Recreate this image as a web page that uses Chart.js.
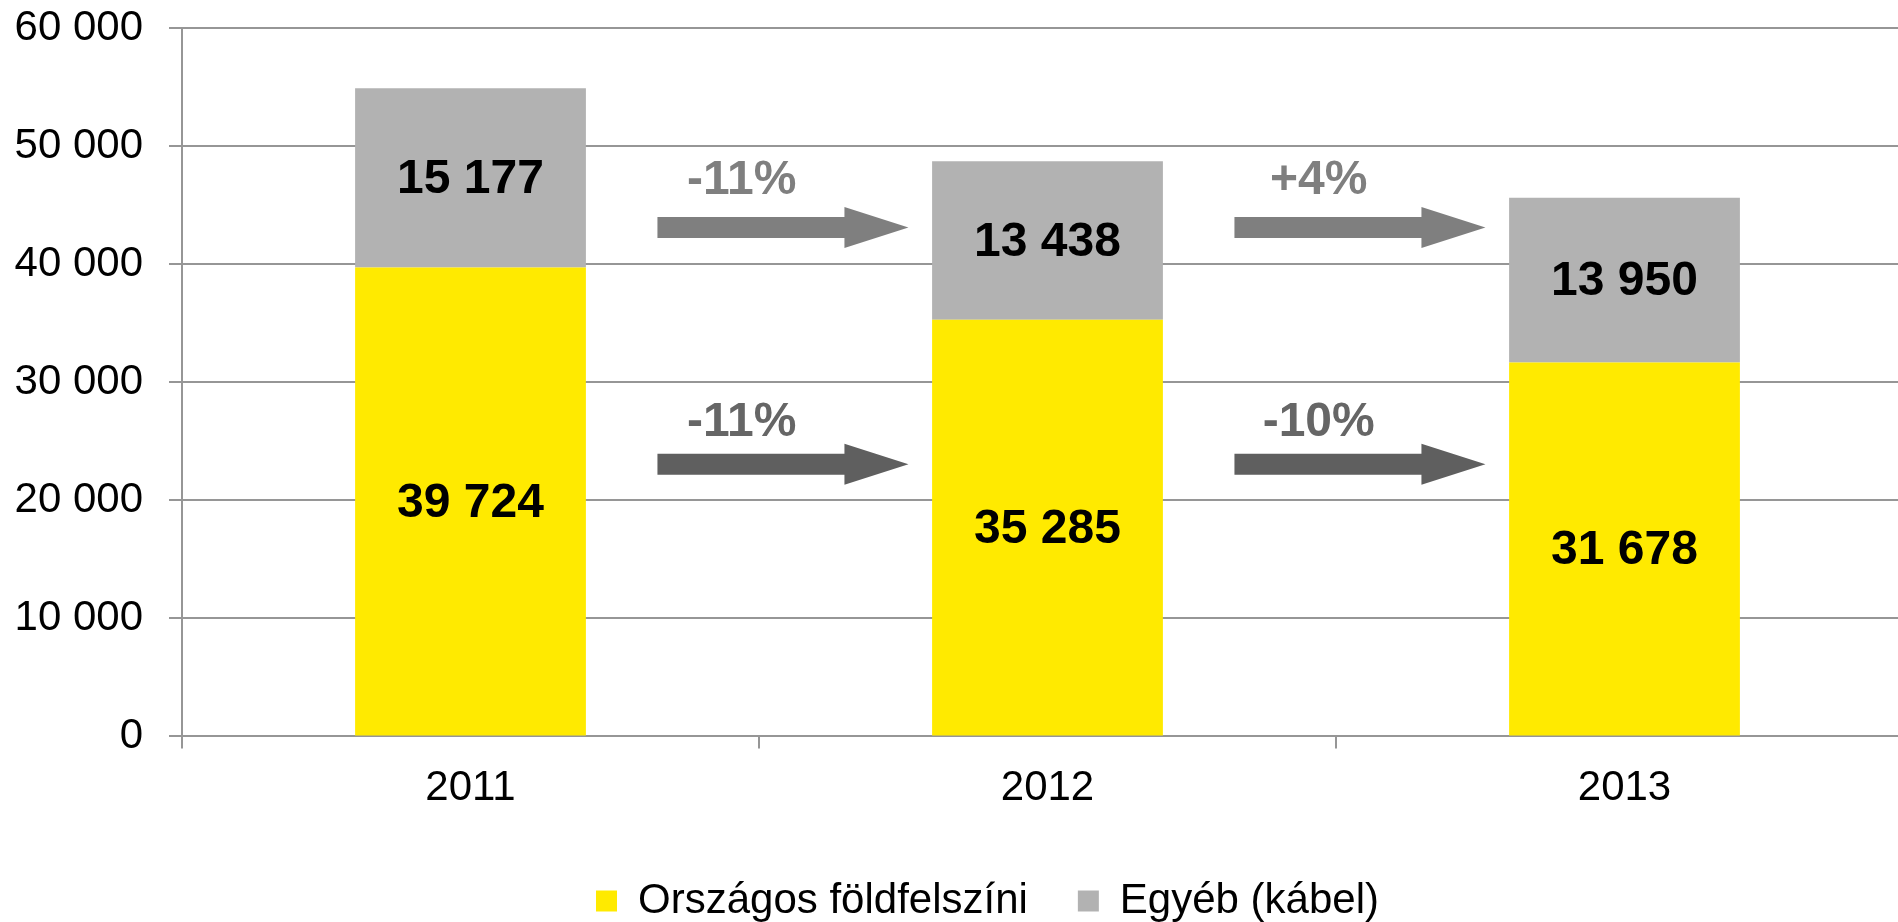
<!DOCTYPE html>
<html><head><meta charset="utf-8">
<script src="https://cdn.jsdelivr.net/npm/chart.js@4.4.0/dist/chart.umd.min.js"></script>
<style>html,body{margin:0;padding:0;overflow:hidden;background:#fff}canvas{display:block}</style>
</head><body>
<canvas id="c" width="1913" height="922"></canvas>
<script>
// ---- data ----
const categories = ['2011', '2012', '2013'];
const seriesNames = ['Országos földfelszíni', 'Egyéb (kábel)'];
const terrestrial = [39724, 35285, 31678];
const cable = [15177, 13438, 13950];
const cableChanges = ['-11%', '+4%'];
const terrestrialChanges = ['-11%', '-10%'];
const yMin = 0, yMax = 60000, yStep = 10000;

// ---- annotation placement (data units: category index / value) ----
const arrowSpan = { from: 0.324, to: 0.759, textAt: 0.47 };
const arrowRows = [
  { changes: cableChanges, arrowY: 43100, textY: 47100, arrowColor: '#7f7f7f', textColor: '#7f7f7f' },
  { changes: terrestrialChanges, arrowY: 23050, textY: 26550, arrowColor: '#5f5f5f', textColor: '#666666' }
];

const FONT = '"Liberation Sans", Arial, sans-serif';
const fmt = v => String(v).replace(/\B(?=(\d{3})+(?!\d))/g, ' ');

const valueLabels = {
  id: 'valueLabels',
  afterDatasetsDraw(chart) {
    const ctx = chart.ctx;
    ctx.save();
    ctx.font = 'bold 48px ' + FONT;
    ctx.fillStyle = '#000';
    ctx.textAlign = 'center';
    ctx.textBaseline = 'middle';
    chart.data.datasets.forEach((ds, di) => {
      const meta = chart.getDatasetMeta(di);
      meta.data.forEach((el, i) => {
        ctx.fillText(fmt(ds.data[i]), el.x, (el.y + el.base) / 2 + 2);
      });
    });
    ctx.restore();
  }
};

const changeArrows = {
  id: 'changeArrows',
  afterDatasetsDraw(chart) {
    const { x, y } = chart.scales;
    const ctx = chart.ctx;
    ctx.save();
    arrowRows.forEach(row => {
      row.changes.forEach((txt, i) => {
        const x0 = x.getPixelForValue(i + arrowSpan.from);
        const x1 = x.getPixelForValue(i + arrowSpan.to);
        const yc = y.getPixelForValue(row.arrowY);
        const sh = 10.5, hh = 20.5, hl = 64;
        ctx.fillStyle = row.arrowColor;
        ctx.beginPath();
        ctx.moveTo(x0, yc - sh);
        ctx.lineTo(x1 - hl, yc - sh);
        ctx.lineTo(x1 - hl, yc - hh);
        ctx.lineTo(x1, yc);
        ctx.lineTo(x1 - hl, yc + hh);
        ctx.lineTo(x1 - hl, yc + sh);
        ctx.lineTo(x0, yc + sh);
        ctx.closePath();
        ctx.fill();
        ctx.font = 'bold 48px ' + FONT;
        ctx.fillStyle = row.textColor;
        ctx.textAlign = 'center';
        ctx.textBaseline = 'middle';
        ctx.fillText(txt, x.getPixelForValue(i + arrowSpan.textAt), y.getPixelForValue(row.textY));
      });
    });
    ctx.restore();
  }
};

const legendShift = {
  id: 'legendShift',
  afterLayout(chart) {
    const lg = chart.legend;
    if (lg) { lg.left += 31; lg.right += 31; }
  }
};

Chart.defaults.font.family = FONT;
Chart.defaults.color = '#000';

new Chart(document.getElementById('c'), {
  type: 'bar',
  data: {
    labels: categories,
    datasets: [
      { label: seriesNames[0], data: terrestrial, backgroundColor: '#FFEA00', borderWidth: 0 },
      { label: seriesNames[1], data: cable, backgroundColor: '#B2B2B2', borderWidth: 0 }
    ]
  },
  options: {
    responsive: false,
    animation: false,
    events: [],
    layout: { padding: { top: 28, left: 0, right: 0, bottom: -10 } },
    datasets: { bar: { barPercentage: 0.4, categoryPercentage: 1.0 } },
    scales: {
      x: {
        stacked: true,
        grid: { drawOnChartArea: false, drawTicks: true, tickLength: 12, color: '#969696', lineWidth: 2, offset: true },
        border: { display: true, color: '#969696', width: 2 },
        ticks: { font: { size: 42 }, color: '#000', padding: 15 },
        title: { display: true, text: '', font: { size: 1 }, padding: { top: 0, bottom: 0 } }
      },
      y: {
        stacked: true,
        min: yMin, max: yMax,
        grid: { color: '#969696', lineWidth: 2, tickLength: 13 },
        border: { display: true, color: '#969696', width: 2 },
        ticks: { stepSize: yStep, font: { size: 42 }, color: '#000', padding: 26, callback: v => fmt(v) },
        afterFit(scale) { scale.width = 182; scale.paddingTop = 0; scale.paddingBottom = 0; }
      }
    },
    plugins: {
      legend: {
        position: 'bottom',
        labels: { boxWidth: 21, boxHeight: 21, font: { size: 42 }, color: '#000', padding: 50 }
      },
      tooltip: { enabled: false }
    }
  },
  plugins: [valueLabels, changeArrows, legendShift]
});
</script>
</body></html>
